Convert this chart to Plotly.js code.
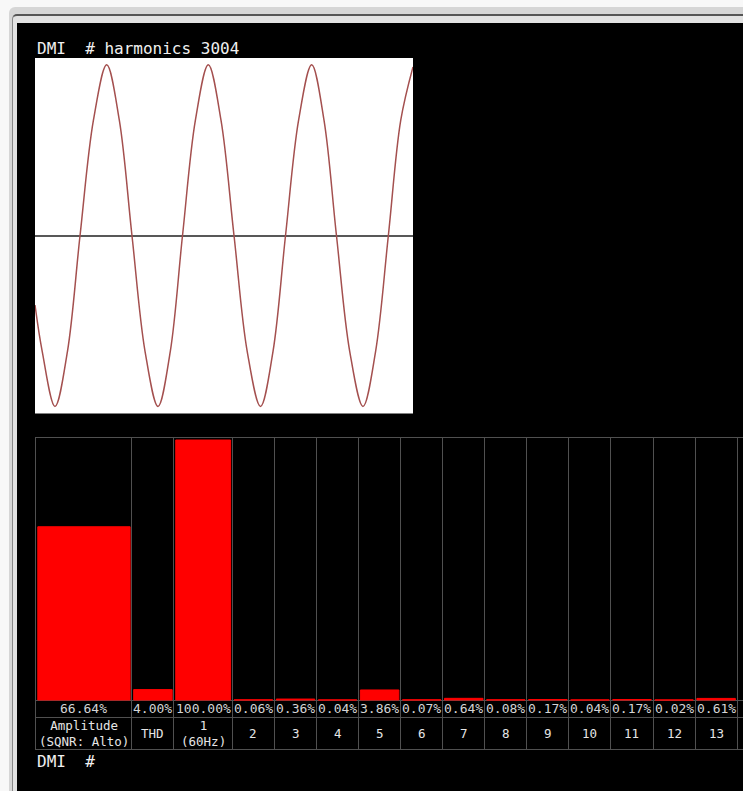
<!DOCTYPE html>
<html><head><meta charset="utf-8">
<script src="https://cdn.plot.ly/plotly-3.0.1.min.js"></script>
<style>
html,body{margin:0;padding:0;width:743px;height:791px;overflow:hidden;background:#f8f8f8;}
#frame{position:absolute;left:9px;top:7px;width:760px;height:800px;background:#d6d6d6;border-radius:6px;}
#frame2{position:absolute;left:12px;top:14px;width:760px;height:800px;background:#e2e2e2;border-top:2px solid #555;border-left:1px solid #888;border-radius:5px;}
#panel{position:absolute;left:17px;top:23px;width:726px;height:768px;background:#000;}
#chart{position:absolute;left:0;top:0;width:743px;height:791px;}
</style></head>
<body>
<div id="frame"></div><div id="frame2"></div><div id="panel"></div>
<div id="chart"></div>
<script>
// ---- data ----
const waveTimeMs = [0.00,1.17,3.25,5.28,7.32,9.50,11.66,13.71,15.77,17.89,20.00,22.00,23.98,26.08,28.18,30.24,32.36,34.50,36.67,38.70,40.73,42.86,44.99,46.99,49.02,51.17,53.33,55.38,57.45,59.47,61.46];
const waveLevel  = [-0.39,-0.65,-0.96,-0.65,0.00,0.65,0.962,0.65,0.00,-0.65,-0.96,-0.65,0.00,0.65,0.962,0.65,0.00,-0.65,-0.96,-0.65,0.00,0.65,0.962,0.65,0.00,-0.65,-0.96,-0.65,0.00,0.65,0.95];
const harmonicLabels = ["Amplitude<br>(SQNR: Alto)","THD","1<br>(60Hz)","2","3","4","5","6","7","8","9","10","11","12","13"];
const harmonicPercent = [66.64,4.00,100.00,0.06,0.36,0.04,3.86,0.07,0.64,0.08,0.17,0.04,0.17,0.02,0.61];
const headerText = "DMI\u00a0\u00a0# harmonics 3004";
const footerText = "DMI\u00a0\u00a0#";

// ---- layout constants ----
const W = 743, H = 791;
const colUnits = [2.28,1,1.39,1,1,1,1,1,1,1,1,1,1,1,1];
const barGap = 0.085;
const edges = [0];
colUnits.forEach(u => edges.push(edges[edges.length-1] + u));
const centers = colUnits.map((u,i) => edges[i] + u/2);
const gridColor = '#505050';
const mono = 'DejaVu Sans Mono';
const pxPerPct = 2.6;

const traces = [
  {type:'scatter', mode:'lines', x:waveTimeMs, y:waveLevel, xaxis:'x', yaxis:'y',
   line:{color:'#a4504f', width:1.5, shape:'spline', smoothing:1}, hoverinfo:'skip'},
  {type:'bar', x:centers, y:harmonicPercent, width:colUnits.map(u => u - barGap),
   xaxis:'x2', yaxis:'y2', marker:{color:'#ff0000', line:{color:'#ff0000', width:1}}, hoverinfo:'skip'}
];

const annotations = [];
harmonicPercent.forEach((v,i) => {
  annotations.push({xref:'x2', yref:'y2', x:centers[i], y:-8.5/pxPerPct, text:v.toFixed(2)+'%',
    showarrow:false, xanchor:'center', yanchor:'middle', font:{family:mono, size:13, color:'#d4d4d4'}});
  annotations.push({xref:'x2', yref:'y2', x:centers[i], y:-33/pxPerPct, text:harmonicLabels[i],
    showarrow:false, xanchor:'center', yanchor:'middle', font:{family:mono, size:12.5, color:'#e6e6e6'}});
});
annotations.push({xref:'paper', yref:'paper', x:35/W, y:1-48.5/H, text:headerText, showarrow:false,
  xanchor:'left', yanchor:'middle', font:{family:mono, size:16, color:'#f0f0f0'}});
annotations.push({xref:'paper', yref:'paper', x:35/W, y:1-761/H, text:footerText, showarrow:false,
  xanchor:'left', yanchor:'middle', font:{family:mono, size:16, color:'#f0f0f0'}});

const layout = {
  width:W, height:H, margin:{l:0,r:0,t:0,b:0,pad:0},
  paper_bgcolor:'rgba(0,0,0,0)', plot_bgcolor:'rgba(0,0,0,0)',
  showlegend:false, hovermode:false,
  xaxis:{domain:[35/W, 413/W], range:[0, 61.46], showgrid:false, zeroline:false, showticklabels:false, ticks:'', showline:false},
  yaxis:{domain:[1-413.5/H, 1-58/H], range:[-1,1], showgrid:false, zeroline:true, zerolinecolor:'#585858', zerolinewidth:2, showticklabels:false, ticks:'', showline:false},
  xaxis2:{domain:[36/W, 1], range:[0, (W-36)/42.06], anchor:'y2', tickvals:edges.slice(1), showgrid:true, gridcolor:gridColor, gridwidth:1,
    zeroline:false, showticklabels:false, ticks:'', showline:true, mirror:true, linecolor:gridColor, linewidth:1},
  yaxis2:{domain:[1-749/H, 1-438/H], range:[-49/pxPerPct, 262/pxPerPct], anchor:'x2', tickvals:[0, -17/pxPerPct], showgrid:true, gridcolor:gridColor, gridwidth:1,
    zeroline:false, showticklabels:false, ticks:'', showline:true, mirror:false, linecolor:gridColor, linewidth:1},
  shapes:[{type:'rect', xref:'x domain', yref:'y domain', x0:0, x1:1, y0:0, y1:1, fillcolor:'#ffffff', line:{width:0}, layer:'below'}],
  annotations:annotations
};

Plotly.newPlot('chart', traces, layout, {displayModeBar:false, staticPlot:true});
</script>
</body></html>
